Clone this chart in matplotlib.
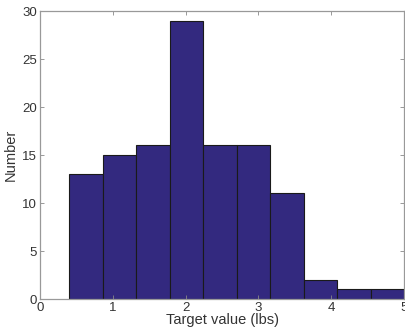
import numpy as np
import matplotlib
matplotlib.use('Agg')
import matplotlib.pyplot as plt

# histogram bins
bin_edges = [0.40, 0.86, 1.32, 1.78, 2.24, 2.70, 3.16, 3.62, 4.08, 4.54, 5.00]
counts = [13, 15, 16, 29, 16, 16, 11, 2, 1, 1]

x_ticks = [0, 1, 2, 3, 4, 5]
y_ticks = [0, 5, 10, 15, 20, 25, 30]

plt.rcParams['font.family'] = ['Liberation Sans', 'DejaVu Sans']

fig = plt.figure(figsize=(4.05, 3.33), dpi=100)
ax = fig.add_axes([40 / 405, 34 / 333, 364 / 405, 288 / 333])

edges = np.array(bin_edges)
ax.bar(edges[:-1], counts, width=np.diff(edges), align='edge',
       color='#33297f', edgecolor='#1a1a1a', linewidth=0.8)

ax.set_xlim(0, 5)
ax.set_ylim(0, 30)
ax.set_xticks(x_ticks)
ax.set_yticks(y_ticks)

ax.tick_params(direction='in', length=3, width=0.6, color='#888888',
               labelsize=9.5, labelcolor='#333333', top=True, right=True)
ax.tick_params(axis='x', pad=2.5)
ax.tick_params(axis='y', pad=2)
for sp in ax.spines.values():
    sp.set_color('#999999')
    sp.set_linewidth(0.9)

ax.set_xlabel('Target value (lbs)', fontsize=10.5, color='#333333', labelpad=-1)
ax.set_ylabel('Number', fontsize=10.5, color='#333333', labelpad=3)

fig.savefig('out.png', dpi=100)
